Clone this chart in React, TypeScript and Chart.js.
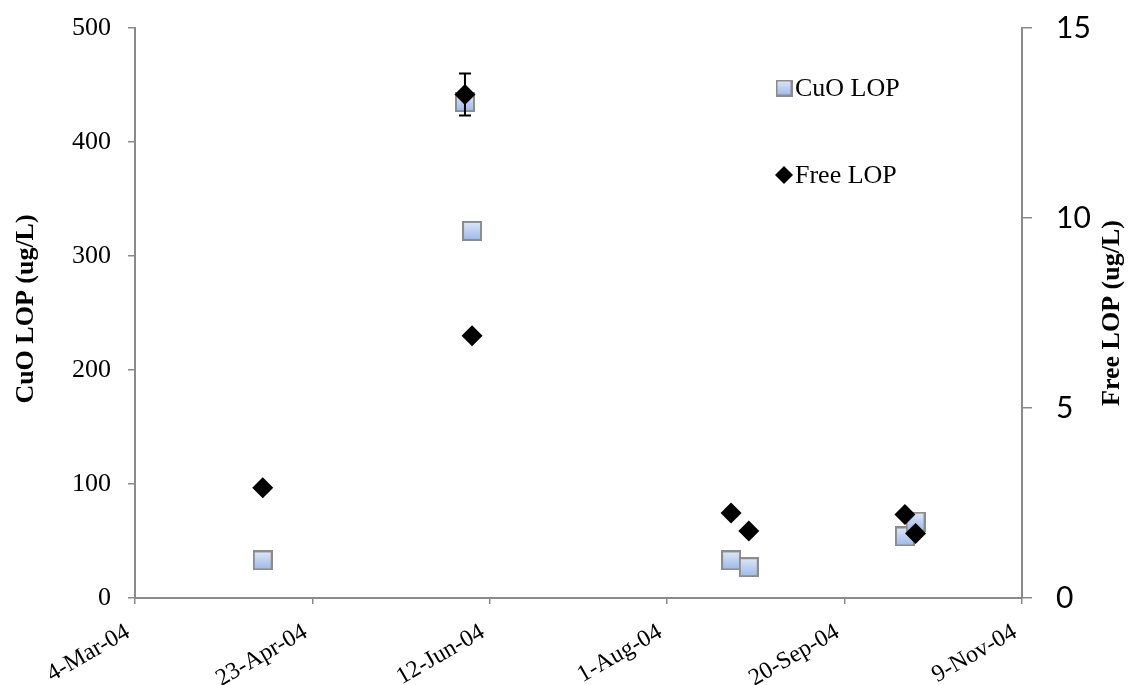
import React, { useEffect, useRef } from 'react';
import { Chart, registerables } from 'chart.js';

Chart.register(...registerables);

// Time axis bounds and tick interval (days)
const axisStart = '2004-03-04';
const axisEnd = '2004-11-09';
const dayStep = 50;

// Sampling dates and measured values
const sampleDates = ['2004-04-09', '2004-06-05', '2004-06-07', '2004-08-19', '2004-08-24', '2004-10-07', '2004-10-10'];
const cuoLop = [33, 435, 322, 33, 27, 54, 67];
const freeLop = [2.9, 13.25, 6.9, 2.24, 1.76, 2.2, 1.7];
const freeLopErr = [0, 0.55, 0, 0, 0, 0, 0];

const monthNames = ['Jan', 'Feb', 'Mar', 'Apr', 'May', 'Jun', 'Jul', 'Aug', 'Sep', 'Oct', 'Nov', 'Dec'];
const DAY_MS = 86400000;

function toUtc(s: string): number {
  const [y, m, d] = s.split('-').map(Number);
  return Date.UTC(y, m - 1, d);
}
const startMs = toUtc(axisStart);
const dayOffset = (s: string) => Math.round((toUtc(s) - startMs) / DAY_MS);
function formatDay(offset: number): string {
  const dt = new Date(startMs + offset * DAY_MS);
  const yy = String(dt.getUTCFullYear() % 100).padStart(2, '0');
  return `${dt.getUTCDate()}-${monthNames[dt.getUTCMonth()]}-${yy}`;
}

const SERIF = '"Liberation Serif", "Times New Roman", serif';
const AXIS_GRAY = '#8a8a8a';

function makeSquare(size: number): HTMLCanvasElement {
  const c = document.createElement('canvas');
  c.width = size;
  c.height = size;
  const g = c.getContext('2d')!;
  const grad = g.createLinearGradient(0, 1, 0, size - 1);
  grad.addColorStop(0, '#dde7f8');
  grad.addColorStop(1, '#9fb9e8');
  g.fillStyle = grad;
  g.fillRect(1, 1, size - 2, size - 2);
  g.strokeStyle = '#8c8c8c';
  g.lineWidth = 2;
  g.strokeRect(1, 1, size - 2, size - 2);
  return c;
}

// Fix an axis box to a given thickness and drop its label overhang padding
function fixBox(key: 'width' | 'height', size: number) {
  return (s: any) => {
    s[key] = size;
    s.paddingTop = 0;
    s.paddingBottom = 0;
    s.paddingLeft = 0;
    s.paddingRight = 0;
  };
}

export default function App() {
  const canvasRef = useRef<HTMLCanvasElement | null>(null);

  useEffect(() => {
    const canvas = canvasRef.current;
    if (!canvas) return;
    const squareMarker = makeSquare(20);
    const squareLegend = makeSquare(17);
    const xs = sampleDates.map(dayOffset);

    const overlay = {
      id: 'overlay',
      afterDatasetsDraw(chart: any) {
        const { ctx, scales } = chart;
        const xScale = scales.x;
        const yR = scales.y2;
        ctx.save();
        ctx.strokeStyle = '#000';
        ctx.lineWidth = 2;
        freeLopErr.forEach((err, i) => {
          if (!err) return;
          const px = xScale.getPixelForValue(xs[i]);
          const top = yR.getPixelForValue(freeLop[i] + err);
          const bot = yR.getPixelForValue(freeLop[i] - err);
          ctx.beginPath();
          ctx.moveTo(px, top);
          ctx.lineTo(px, bot);
          ctx.moveTo(px - 6, top);
          ctx.lineTo(px + 6, top);
          ctx.moveTo(px - 6, bot);
          ctx.lineTo(px + 6, bot);
          ctx.stroke();
        });
        ctx.restore();
      },
      afterDraw(chart: any) {
        const { ctx, chartArea } = chart;
        const midY = (chartArea.top + chartArea.bottom) / 2;
        ctx.save();
        ctx.fillStyle = '#000';
        ctx.font = `bold 26px ${SERIF}`;
        ctx.textAlign = 'center';
        ctx.textBaseline = 'middle';
        // Axis titles, both reading bottom-to-top
        ctx.save();
        ctx.translate(26, midY - 4);
        ctx.rotate(-Math.PI / 2);
        ctx.fillText('CuO LOP (ug/L)', 0, 0);
        ctx.restore();
        ctx.save();
        ctx.translate(1112, midY);
        ctx.rotate(-Math.PI / 2);
        ctx.fillText('Free LOP (ug/L)', 0, 0);
        ctx.restore();

        // Legend
        ctx.font = `26px ${SERIF}`;
        ctx.textAlign = 'left';
        ctx.drawImage(squareLegend, 784 - 8.5, 88 - 8.5);
        ctx.fillText('CuO LOP', 795, 89);
        ctx.beginPath();
        ctx.moveTo(784, 175 - 9);
        ctx.lineTo(784 + 9, 175);
        ctx.lineTo(784, 175 + 9);
        ctx.lineTo(784 - 9, 175);
        ctx.closePath();
        ctx.fill();
        ctx.fillText('Free LOP', 795, 176);
        ctx.restore();
      },
    };

    const chart = new Chart(canvas, {
      type: 'scatter',
      data: {
        datasets: [
          {
            label: 'Free LOP',
            data: xs.map((x, i) => ({ x, y: freeLop[i] })),
            yAxisID: 'y2',
            pointStyle: 'rectRot',
            pointRadius: 10.5,
            pointHoverRadius: 10.5,
            backgroundColor: '#000',
            borderColor: '#000',
            borderWidth: 0,
            order: 0,
          },
          {
            label: 'CuO LOP',
            data: xs.map((x, i) => ({ x, y: cuoLop[i] })),
            yAxisID: 'y',
            pointStyle: squareMarker,
            pointRadius: 10,
            pointHoverRadius: 10,
            order: 1,
          },
        ],
      },
      options: {
        responsive: false,
        animation: false,
        events: [],
        layout: { padding: { top: 28, left: 0, right: 0, bottom: 0 } },
        plugins: {
          legend: { display: false },
          tooltip: { enabled: false },
        },
        scales: {
          x: {
            type: 'linear',
            min: 0,
            max: dayOffset(axisEnd),
            border: { display: true, color: AXIS_GRAY, width: 2 },
            grid: { drawOnChartArea: false, drawTicks: true, tickLength: 6, color: AXIS_GRAY, lineWidth: 1.5 },
            ticks: {
              stepSize: dayStep,
              autoSkip: false,
              minRotation: 30,
              maxRotation: 30,
              padding: 14,
              labelOffset: -7,
              color: '#000',
              font: { family: SERIF, size: 24 },
              callback: (v: any) => formatDay(Number(v)),
            },
            afterFit: fixBox('height', 87),
          },
          y: {
            type: 'linear',
            position: 'left',
            min: 0,
            max: 500,
            border: { display: true, color: AXIS_GRAY, width: 2 },
            grid: { drawOnChartArea: false, drawTicks: true, tickLength: 7, color: AXIS_GRAY, lineWidth: 1.5 },
            ticks: {
              stepSize: 50,
              autoSkip: false,
              padding: 17,
              color: '#000',
              font: { family: SERIF, size: 26 },
              callback: (v: any) => (Number(v) % 100 === 0 ? String(v) : null),
            },
            afterFit: fixBox('width', 135),
          },
          y2: {
            type: 'linear',
            position: 'right',
            min: 0,
            max: 15,
            border: { display: true, color: AXIS_GRAY, width: 2 },
            grid: { drawOnChartArea: false, drawTicks: true, tickLength: 10, color: AXIS_GRAY, lineWidth: 1.5 },
            ticks: {
              stepSize: 1,
              autoSkip: false,
              padding: 24,
              color: '#000',
              font: { family: 'Lato, "Open Sans", sans-serif', size: 30 },
              callback: (v: any) => (Number(v) % 5 === 0 ? String(v) : null),
            },
            afterFit: fixBox('width', 106),
          },
        },
      },
      plugins: [overlay],
    });

    return () => chart.destroy();
  }, []);

  return (
    <div style={{ position: 'absolute', left: 0, top: 0, width: 1128, height: 685, background: '#fff' }}>
      <canvas ref={canvasRef} width={1128} height={685} style={{ display: 'block' }} />
    </div>
  );
}
